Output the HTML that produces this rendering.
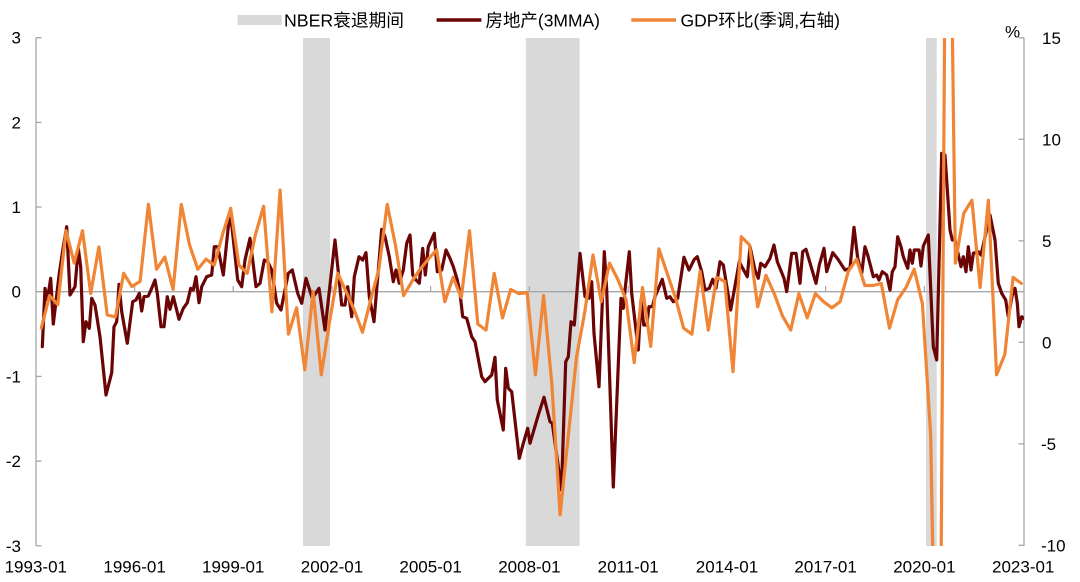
<!DOCTYPE html>
<html>
<head>
<meta charset="utf-8">
<style>
  html, body { margin: 0; padding: 0; background: #ffffff; width: 1080px; height: 582px; overflow: hidden; }
  svg { display: block; overflow: hidden; }
  text { font-family: "Liberation Sans", "Noto Sans CJK SC", sans-serif; fill: #000; }
</style>
</head>
<body>
<svg width="1080" height="582" viewBox="0 0 1080 582" xmlns="http://www.w3.org/2000/svg">
  <defs>
    <clipPath id="plot">
      <rect x="36" y="38" width="988" height="508"/>
    </clipPath>
  </defs>

  <!-- recession bands -->
  <rect x="303" y="38" width="27" height="508" fill="#d9d9d9"/>
  <rect x="525.8" y="38" width="53.8" height="508" fill="#d9d9d9"/>
  <rect x="926" y="38" width="10.7" height="508" fill="#d9d9d9"/>

  <!-- zero line -->
  <line x1="36" y1="291.7" x2="1024" y2="291.7" stroke="#a6a6a6" stroke-width="1.3"/>
  <!-- x ticks on zero line -->
  <g stroke="#a6a6a6" stroke-width="1.2">
    <line x1="134.6" y1="291.7" x2="134.6" y2="286"/>
    <line x1="233.2" y1="291.7" x2="233.2" y2="286"/>
    <line x1="332" y1="291.7" x2="332" y2="286"/>
    <line x1="430.6" y1="291.7" x2="430.6" y2="286"/>
    <line x1="529.4" y1="291.7" x2="529.4" y2="286"/>
    <line x1="628.2" y1="291.7" x2="628.2" y2="286"/>
    <line x1="727" y1="291.7" x2="727" y2="286"/>
    <line x1="825.6" y1="291.7" x2="825.6" y2="286"/>
    <line x1="924.4" y1="291.7" x2="924.4" y2="286"/>
  </g>

  <!-- left axis -->
  <g stroke="#a6a6a6" stroke-width="1.3">
    <line x1="36" y1="37.7" x2="36" y2="546"/>
    <line x1="36" y1="37.7" x2="41.5" y2="37.7"/>
    <line x1="36" y1="122.4" x2="41.5" y2="122.4"/>
    <line x1="36" y1="207" x2="41.5" y2="207"/>
    <line x1="36" y1="376.4" x2="41.5" y2="376.4"/>
    <line x1="36" y1="461.1" x2="41.5" y2="461.1"/>
    <line x1="36" y1="545.8" x2="41.5" y2="545.8"/>
  </g>
  <!-- right axis -->
  <g stroke="#a6a6a6" stroke-width="1.3">
    <line x1="1024" y1="37.8" x2="1024" y2="546"/>
    <line x1="1024" y1="37.8" x2="1018.5" y2="37.8"/>
    <line x1="1024" y1="139.3" x2="1018.5" y2="139.3"/>
    <line x1="1024" y1="240.8" x2="1018.5" y2="240.8"/>
    <line x1="1024" y1="342.3" x2="1018.5" y2="342.3"/>
    <line x1="1024" y1="443.8" x2="1018.5" y2="443.8"/>
    <line x1="1024" y1="545.3" x2="1018.5" y2="545.3"/>
  </g>

  <!-- series -->
  <g clip-path="url(#plot)">
    <polyline fill="none" stroke="#6b0505" stroke-width="3.2" stroke-linejoin="round" stroke-linecap="round"
      points="42.3,346.7 45,288.3 47.3,300 50.7,278.3 53.3,324 59.3,273.3 63.3,246.7 66.7,226.7 70,295 75,286.7 78.3,248.3 80.7,266.7 83.3,341.7 86,321.7 89.3,328.3 91.7,298.3 95,305 100,336.7 106,395 111.7,372.7 114,326.7 116.7,321.7 119,284.3 121.7,311.7 127.3,343.3 132.7,301.7 136,300 139.3,293.3 141.7,311 144,296.7 148.3,296 151.7,288.3 155,280 157.3,293.3 161,326.7 164,326.7 167.3,296.7 170,309.3 173.3,296.7 179,319.3 183.3,308.3 187.3,302.7 190.7,288.3 193.3,290 196,276.7 199,302.7 201.7,286.7 206.7,276.7 211.7,275 214.3,246.7 217.7,246.7 223.3,275 228.3,226.7 231,218 237.7,280 241.7,286.7 245,260 250,238.3 256,286.7 260,283.3 264.3,260 267.7,261.7 271.7,270 276.7,303.3 281,310 288.3,273.3 292.3,270 297.7,293.3 301.7,303.3 306,278.3 312.3,298.3 319,288.3 325,330 335,240 341.7,305 345,305 347.7,286.7 351.7,316.7 354.3,276.7 359,256.7 362.7,260 366,252.7 369.3,296.7 374,321.7 381.7,229.3 385,236.7 389.3,256.7 393.3,281.7 396,270 399.3,283.3 403.3,270 406.7,243.3 410,235 412.7,275 416,280 419.3,283.3 422.7,248.3 425.3,275 428.3,246.7 434.3,233.3 437.3,271.7 441.7,270 446,250 450,258.3 453.3,266.7 457.3,280 460,293.3 462.7,316.7 466.7,318.3 471.7,336.7 475,341.7 481.7,376.7 485,381.7 488.3,378.3 491.7,375 495,357.3 497.3,400 503.3,430 505.7,368.3 508.3,388.3 511.7,391.7 519.3,458.3 523.3,443.3 527.7,428.3 530,443.3 538.3,415 544,397.3 550,421.7 552.3,423.3 561.5,490 565.7,361.7 568.3,356.7 571,321.7 574.3,325 580,253.3 585,296.7 589,298.3 591.7,281.7 594,333.3 599,386.7 604.3,251.7 606.7,290 613.3,487 621,298.3 623.3,308.3 625,290 629.3,251.7 631.7,293.3 638.3,350 641,300 643.7,325 646.7,325 649,306.7 652.3,306.7 655,296.7 662.3,279.3 666.7,298.3 670,296.7 673.3,301.7 677.7,298.3 684,257.3 689,270 694.3,259.3 697.3,256.7 701.7,271.7 705,290 709.3,288.3 712.7,279.3 716,288.3 720,261.7 723.3,265 730.7,310 739.3,261.7 742.7,268.3 747.3,276.7 750,246.7 755,270 758.3,278.3 760.7,263.3 765,266.7 770,258.3 774,245 777.3,261.7 784,278.3 786.7,291.7 791.7,253.3 796,253.3 800,283.3 802.7,251.7 806,249.3 816,283.3 819.3,265 824,248.3 826.7,271.7 832.7,252.7 837.3,258.3 841.7,265 845,270 850,268.3 854,227.3 857.7,258.3 861.7,273.3 865,246.7 867.7,255 873.3,276.7 876.7,275 879,280 882.3,271.7 886.7,275 890,290 892.3,271.7 895,266.7 897.7,236.7 901,246.7 903.3,256.7 907.7,268.3 910,250 912.3,263.3 914.3,250 919,250 921,266 923.3,246 928.3,235 933.3,346.7 936.7,360 941.7,153.3 945,155 950,230 952.3,240 955,240 961,266.7 963.3,256.7 966,271.7 968.3,246.7 971,270 973.3,253.3 978.3,251.7 981,255 990,215 995,240 998.3,283.3 1001.7,293.3 1005.7,300 1008.3,316.7 1012.3,295 1015,288.3 1017.3,303.3 1019,326.7 1021.7,316.7 1023.5,318.3"/>

    <polyline fill="none" stroke="#ef8535" stroke-width="3.2" stroke-linejoin="round" stroke-linecap="round"
      points="41.3,328.1 49.5,295.6 57.8,304.7 66,230.7 74.2,263.1 82.5,230.7 90.7,293.6 98.9,246.9 107.2,314.9 115.4,316.9 123.7,273.3 131.9,286.5 140.1,281.4 148.4,204.3 156.6,269.2 164.8,257 173.1,289.5 181.3,204.3 189.5,244.9 197.8,269.2 206,259.1 214.2,265.2 222.5,234.7 230.7,208.3 238.9,265.2 247.2,273.3 255.4,234.7 263.6,206.3 271.9,311.8 280.1,190.1 288.4,334.2 296.6,307.8 304.8,369.7 313.1,291.5 321.3,374.8 329.5,322 337.8,273.3 346,291.5 354.2,309.8 362.5,332.2 370.7,299.7 378.9,269.2 387.2,204.3 395.4,244.9 403.6,295.6 411.9,281.4 420.1,269.2 428.3,259.1 436.6,249.9 444.8,301.7 453.1,277.3 461.3,297.6 469.5,230.7 477.8,324 486,330.1 494.2,273.3 502.5,317.9 510.7,289.5 518.9,293.6 527.2,292.6 535.4,374.8 543.6,295.6 551.9,384.9 560.1,514.9 568.3,435.7 576.6,356.5 584.8,311.8 593,255 601.3,301.7 609.5,263.1 617.8,279.4 626,299.7 634.2,362.6 642.5,287.5 650.7,346.4 658.9,248.9 667.2,273.3 675.4,297.6 683.6,328.1 691.9,334.2 700.1,271.3 708.3,330.1 716.6,277.3 724.8,281.4 733,371.7 741.3,236.7 749.5,244.9 757.7,306.8 766,275.3 774.2,293.6 782.5,315.9 790.7,330.1 798.9,293.6 807.2,317.9 815.4,293.6 823.6,301.7 831.9,307.8 840.1,301.7 848.3,271.3 856.6,259.1 864.8,285.5 873,285.5 881.3,283.4 889.5,328.1 897.7,299.7 906,287.5 914.2,269.2 922.4,303.7 930.7,435.7 932.8,555 941.2,555 944.6,28 952.3,28 955.4,263.1 963.7,213.4 971.9,200.2 980.1,287.5 988.4,200.2 996.6,374.8 1004.8,354.5 1013.1,277.3 1021.3,283.4"/>
  </g>

  <!-- left axis labels -->
  <g font-size="17" text-anchor="end">
    <text x="21" y="43.7">3</text>
    <text x="21" y="128.4">2</text>
    <text x="21" y="213">1</text>
    <text x="21" y="297.7">0</text>
    <text x="21" y="382.4">-1</text>
    <text x="21" y="467.1">-2</text>
    <text x="21" y="551.8">-3</text>
  </g>
  <!-- right axis labels -->
  <g font-size="17" text-anchor="start">
    <text x="1042" y="43.8">15</text>
    <text x="1042" y="145.3">10</text>
    <text x="1042" y="246.8">5</text>
    <text x="1042" y="348.3">0</text>
    <text x="1041" y="449.8">-5</text>
    <text x="1041" y="551.3">-10</text>
  </g>
  <text x="1005" y="37.5" font-size="17">%</text>

  <!-- x axis labels -->
  <g font-size="17" text-anchor="middle">
    <text x="35.8" y="572.5">1993-01</text>
    <text x="134.6" y="572.5">1996-01</text>
    <text x="233.2" y="572.5">1999-01</text>
    <text x="332" y="572.5">2002-01</text>
    <text x="430.6" y="572.5">2005-01</text>
    <text x="529.4" y="572.5">2008-01</text>
    <text x="628.2" y="572.5">2011-01</text>
    <text x="727" y="572.5">2014-01</text>
    <text x="825.6" y="572.5">2017-01</text>
    <text x="924.4" y="572.5">2020-01</text>
    <text x="1023.2" y="572.5">2023-01</text>
  </g>

  <!-- legend -->
  <rect x="237.6" y="15" width="44.1" height="10" fill="#d9d9d9"/>
  <text x="284" y="26.5" font-size="17.5" textLength="120" lengthAdjust="spacingAndGlyphs">NBER衰退期间</text>
  <line x1="436.6" y1="20" x2="481.4" y2="20" stroke="#6b0505" stroke-width="3.5"/>
  <text x="485.5" y="26.5" font-size="17.5" textLength="114.5" lengthAdjust="spacingAndGlyphs">房地产(3MMA)</text>
  <line x1="631.3" y1="20" x2="676" y2="20" stroke="#ef8535" stroke-width="3.5"/>
  <text x="680.5" y="26.5" font-size="17.5" textLength="159.5" lengthAdjust="spacingAndGlyphs">GDP环比(季调,右轴)</text>
</svg>
</body>
</html>
